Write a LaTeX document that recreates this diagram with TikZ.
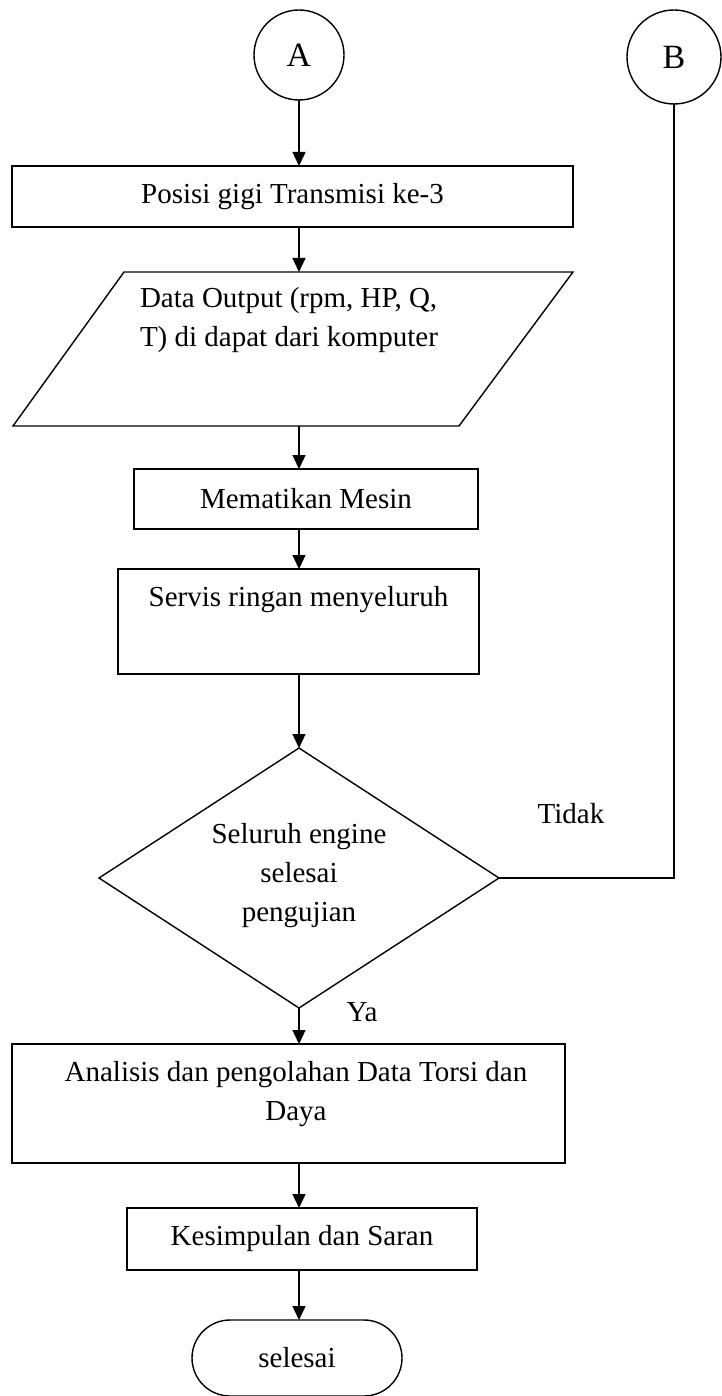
\documentclass[tikz,border=0pt]{standalone}
\usepackage{fontspec}
\setmainfont{Liberation Serif}
\usetikzlibrary{shapes.geometric,arrows.meta}
\begin{document}
\begin{tikzpicture}[x=1pt,y=-1pt,
  every node/.style={font=\fontsize{29}{39}\selectfont, inner sep=0pt, outer sep=0pt},
  line/.style={line width=1.4pt, draw=black},
  arr/.style={line, -{Triangle[length=14pt,width=13pt]}},
  box/.style={draw, line width=1.4pt, rectangle},
  conn/.style={draw, line width=1.4pt, circle, font=\fontsize{34}{40}\selectfont},
  decision/.style={draw, line width=1.4pt, diamond, minimum width=400pt, minimum height=260pt},
  term/.style={draw, line width=1.4pt, rectangle, rounded corners=38pt, minimum width=210pt, minimum height=76pt},
]
\path[use as bounding box, fill=white] (0,0) rectangle (722,1396);

\node[conn, minimum size=90pt] (A) at (299,55) {A};
\node[conn, minimum size=94pt] (B) at (674,57) {B};

\node[box, minimum width=561pt, minimum height=61pt] (b1) at (292.5,196.5) {Posisi gigi Transmisi ke-3};

\draw[line] (124,272) -- (573,272) -- (459,426) -- (13,426) -- cycle;
\coordinate (pin) at (299,272);
\coordinate (pout) at (299,426);
\node[align=left, anchor=west] (ptext) at (140,320) {Data Output (rpm, HP, Q,\\T) di dapat dari komputer};

\node[box, minimum width=344pt, minimum height=60pt] (b2) at (306,499) {Mematikan Mesin};

\node[box, minimum width=361pt, minimum height=105pt] (b3) at (298.5,621.5) {};
\node (t3) at (298.5,600) {Servis ringan menyeluruh};

\node[decision] (dec) at (299,878) {};
\node[align=center] (tdec) at (299,876) {Seluruh engine\\selesai\\pengujian};

\node (tidak) at (571,814) {Tidak};
\node (ya) at (362,1012) {Ya};

\node[box, minimum width=553pt, minimum height=119pt] (b4) at (288.5,1103.5) {};
\node[align=center] (t4) at (296,1094) {Analisis dan pengolahan Data Torsi dan\\Daya};

\node[box, minimum width=350pt, minimum height=62pt] (b5) at (302,1239) {Kesimpulan dan Saran};

\node[term] (end) at (297,1358) {selesai};

\draw[arr] (A.south) -- (A.south |- b1.north);
\draw[arr] (A.south |- b1.south) -- (pin);
\draw[arr] (pout) -- (pout |- b2.north);
\draw[arr] (pout |- b2.south) -- (pout |- b3.north);
\draw[arr] (pout |- b3.south) -- (dec.north);
\draw[arr] (dec.south) -- (dec.south |- b4.north);
\draw[arr] (dec.south |- b4.south) -- (dec.south |- b5.north);
\draw[arr] (dec.south |- b5.south) -- (dec.south |- end.north);
\draw[line] (B.south) |- (dec.east);
\end{tikzpicture}
\end{document}
